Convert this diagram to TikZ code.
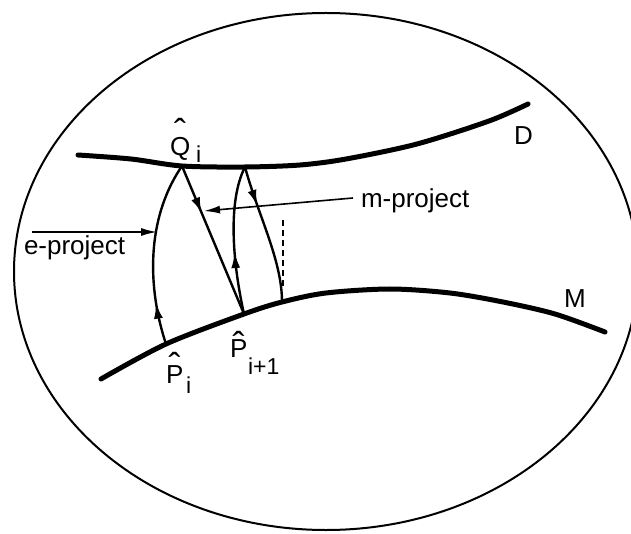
\documentclass[tikz,border=0pt]{standalone}
\usepackage{fontspec}
\setmainfont{Liberation Sans}
\usetikzlibrary{arrows.meta,decorations.markings}
\newcommand\hatted[2]{\vbox{\offinterlineskip\halign{\hfil##\hfil\cr{\fontsize{36}{36}\selectfont\raisebox{-20.8pt}[5.5pt][0pt]{\char"02C6}}\cr\noalign{\kern#1}#2\cr}}}
\begin{document}
\begin{tikzpicture}[x=1pt,y=-1pt,
  manifold/.style={line width=5pt, line cap=round},
  conn/.style={line width=2.4pt},
  pointer/.style={line width=1.6pt, -{Latex[length=16pt,width=8pt]}},
  midarrow/.style={postaction={decorate},decoration={markings,mark=at position #1 with {\arrow{Latex[length=16pt,width=9pt]}}}},
  lbl/.style={inner sep=0pt, outer sep=0pt, anchor=base west, font=\fontsize{26}{28}\selectfont},
  sublbl/.style={inner sep=0pt, outer sep=0pt, anchor=base west, font=\fontsize{23}{24}\selectfont},
]
\useasboundingbox (0,0) rectangle (631,534);
\clip (0,0) rectangle (631,534);
% outer ellipse
\draw[line width=2pt] (326,271.5) ellipse [x radius=312, y radius=258.5];
% points
\coordinate (Q)   at (182,166);
\coordinate (Q2)  at (245,167);
\coordinate (Pi)  at (166,344);
\coordinate (Pi1) at (244,314);
\coordinate (R)   at (282,302);
% manifolds
\draw[manifold] plot[smooth] coordinates {(78,155) (131,159) (Q) (Q2) (300,165) (346,159) (417,144) (489,121) (528,104)};
\draw[manifold] plot[smooth] coordinates {(101,379) (Pi) (Pi1) (R) (326,293) (390,289) (450,293) (503,302) (555,314) (605,332)};
% projections
\draw[conn, midarrow=0.23] (Pi) .. controls (148,290) and (145,220) .. (Q);
\draw[conn, midarrow=0.32] (Q) -- (Pi1);
\draw[conn, midarrow=0.42] (Pi1) .. controls (232,260) and (228,200) .. (Q2);
\draw[conn, midarrow=0.29] (Q2) .. controls (258,215) and (282,260) .. (R);
\coordinate (dTop) at (283,220);
\coordinate (dBot) at (283,287);
\draw[line width=1.8pt, dash pattern=on 6pt off 4pt] (dTop) -- (dBot);
% pointers
\coordinate (eS) at (32,232);
\coordinate (eT) at (157,232);
\coordinate (mS) at (353,198);
\coordinate (mT) at (204,211);
\draw[pointer] (eS) -- (eT);
\draw[pointer] (mS) -- (mT);
% labels
\node[lbl] (eLbl) at (24,255) {e-project};
\node[lbl] (mLbl) at (361,208) {m-project};
\node[lbl] (Dlbl) at (514,145) {D};
\node[lbl] (Mlbl) at (564,308) {M};
\node[lbl] (Qlbl) at (170,156) {\hatted{14pt}{Q}};
\node[sublbl] (Qsub) at (196,163) {i};
\node[lbl] (Plbl) at (166,383) {\hatted{7pt}{P}};
\node[sublbl] (Psub) at (186,393) {i};
\node[lbl] (P1lbl) at (230,357) {\hatted{2pt}{P}};
\node[sublbl] (P1sub) at (248,374) {i+1};
\end{tikzpicture}
\end{document}
